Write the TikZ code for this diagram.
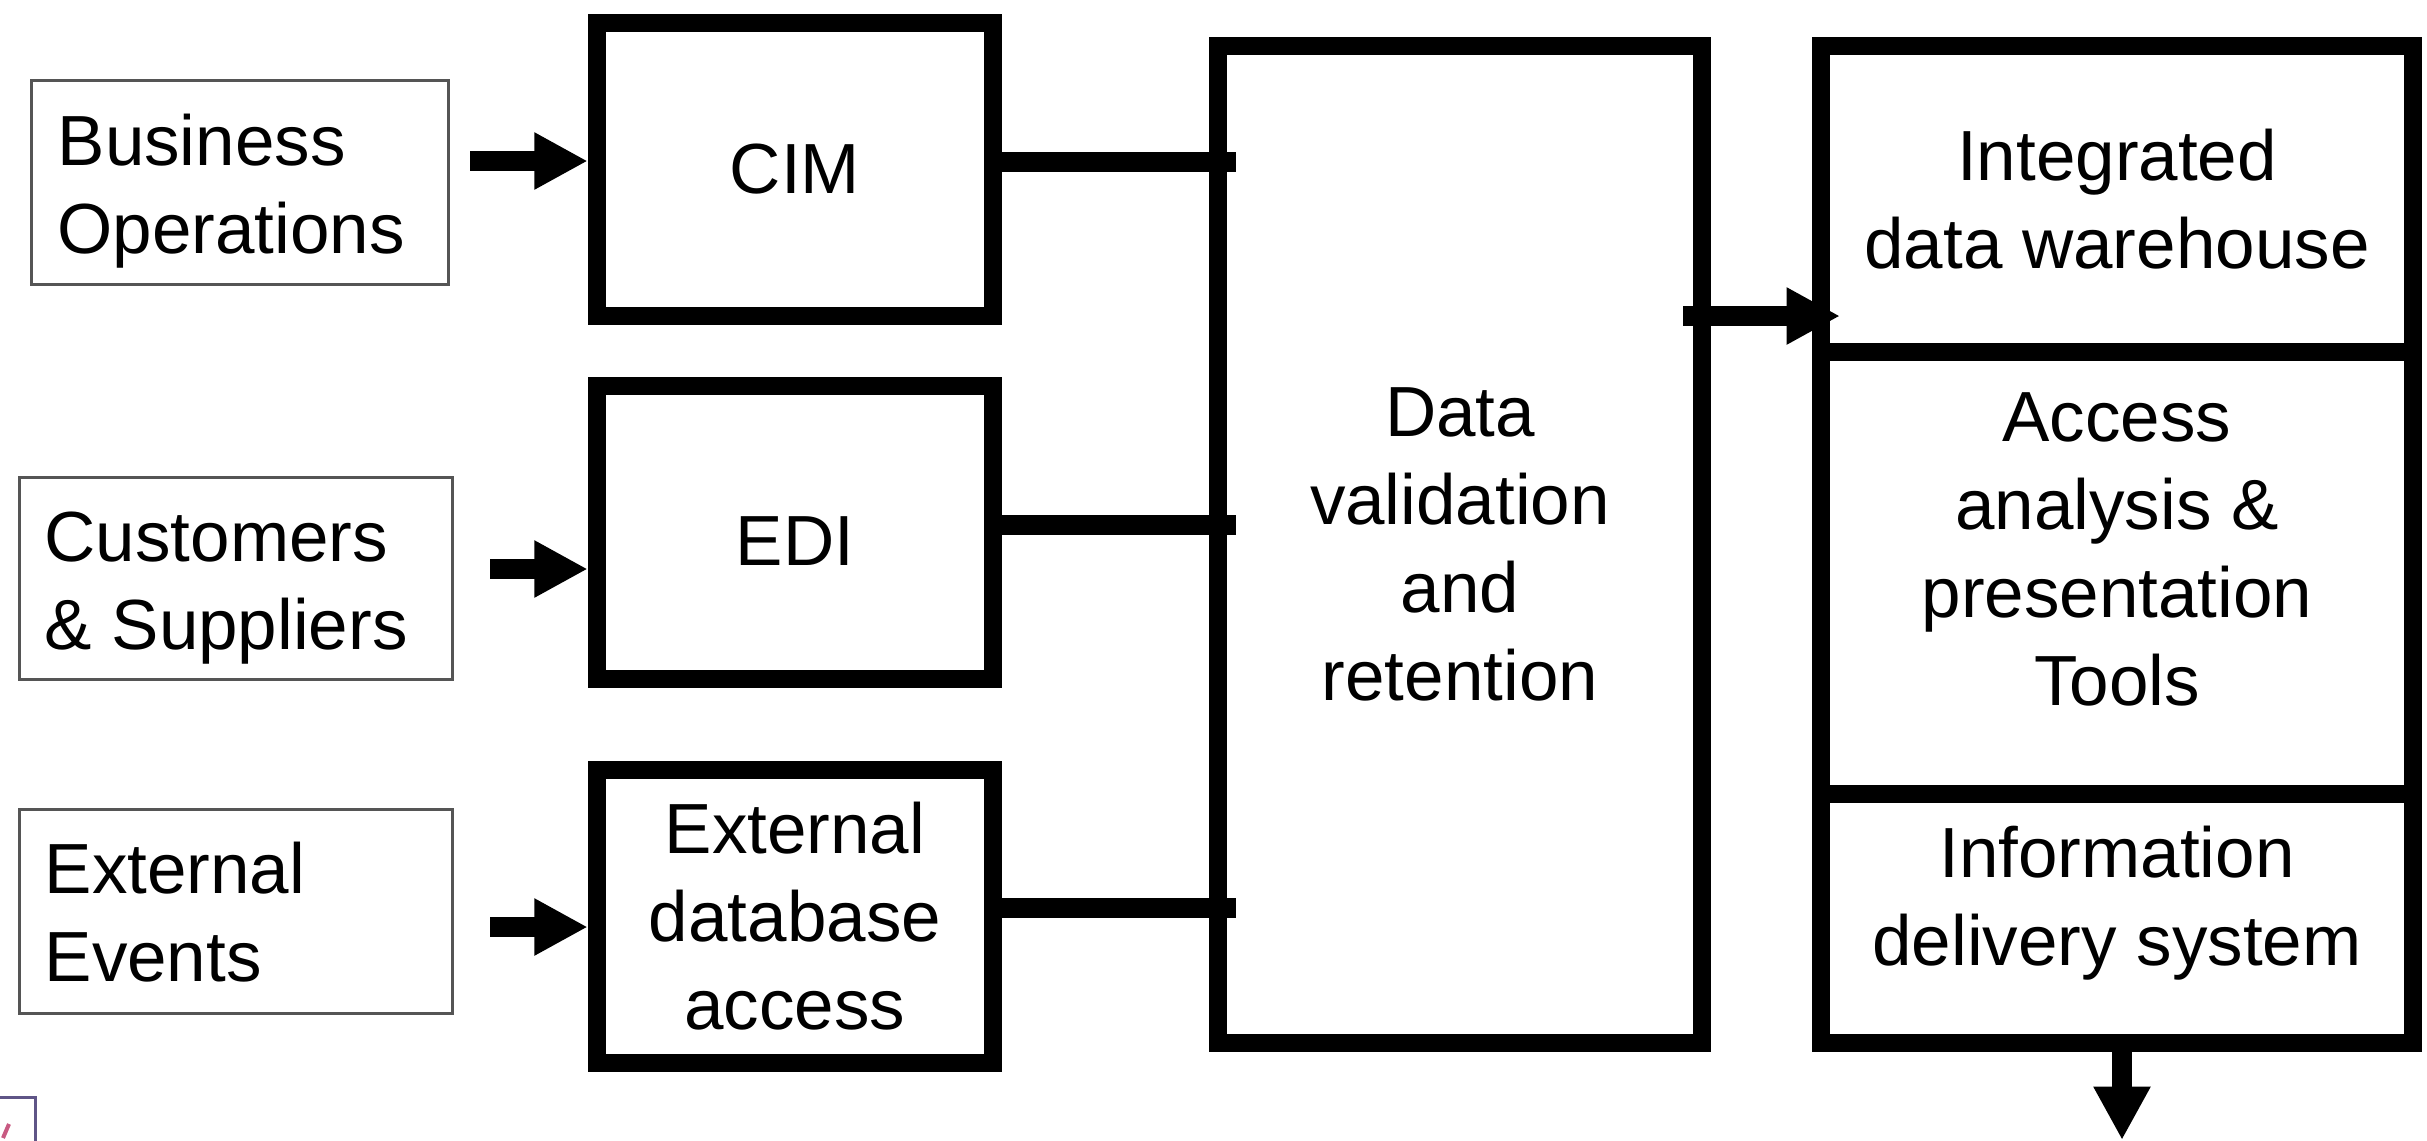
\documentclass[tikz,border=0pt]{standalone}
\usepackage{fontspec}
\setmainfont{Liberation Sans}
\usetikzlibrary{arrows.meta}
\tikzset{
  lbl/.style={font=\fontsize{21.3pt}{26.4pt}\selectfont, align=center, inner sep=0pt},
  lbll/.style={font=\fontsize{21.3pt}{26.4pt}\selectfont, align=left, inner sep=0pt, anchor=west},
  srcbox/.style={draw={rgb,255:red,85;green,85;blue,85}, line width=0.9pt, rectangle, inner sep=0pt},
  thickbox/.style={draw=black, line width=5.4pt, rectangle, inner sep=0pt,
    font=\fontsize{21.3pt}{26.4pt}\selectfont, align=center},
  conn/.style={draw=black, line width=6pt},
  arr/.style={draw=black, line width=6pt, -{Triangle[length=16pt,width=16pt]}},
}
\begin{document}
\begin{tikzpicture}[x=0.3pt, y=-0.3pt]
\useasboundingbox (0,0) rectangle (2427,1140);
% source boxes
\node[srcbox, minimum width=125.25pt, minimum height=61.2pt] (bo) at (239.75,182.5) {};
\node[srcbox, minimum width=130.05pt, minimum height=60.6pt] (cs) at (235.75,578.5) {};
\node[srcbox, minimum width=130.05pt, minimum height=61.2pt] (ee) at (235.75,911.5) {};
\node[lbll] (botext) at (57,191) {Business\\Operations};
\node[lbll] (cstext) at (44,588) {Customers\\\& Suppliers};
\node[lbll] (eetext) at (44,912) {External\\Events};
% middle boxes
\node[thickbox, minimum width=118.95pt, minimum height=87.9pt] (cim) at (795,169.5) {CIM};
\node[thickbox, minimum width=118.95pt, minimum height=87.9pt] (edi) at (795,532.5) {};
\node[lbl] (editext) at (795,541) {EDI};
\node[thickbox, minimum width=118.95pt, minimum height=87.9pt] (edb) at (795,916.5) {External\\database\\access};
% data validation
\node[thickbox, minimum width=145.2pt, minimum height=299.1pt] (dv) at (1460,544.5) {Data\\validation\\and\\retention};
% right stack
\node[thickbox, minimum width=177.6pt, minimum height=91.8pt] (dw) at (2117,199) {Integrated\\data warehouse};
\node[thickbox, minimum width=177.6pt, minimum height=132.6pt] (aa) at (2117,573) {};
\node[thickbox, minimum width=177.6pt, minimum height=74.7pt] (ids) at (2117,918.5) {};
\node[lbl] (aatext) at (2117,549) {Access\\analysis \&\\presentation\\Tools};
\node[lbl] (idstext) at (2117,903) {Information\\delivery system};
% free ends
\coordinate (s1) at (470,161);
\coordinate (s2) at (490,569);
\coordinate (s3) at (490,927);
\coordinate (j1) at (1236,162);
\coordinate (j2) at (1236,525);
\coordinate (j3) at (1236,908);
\coordinate (d1) at (1683,316);
\coordinate (out) at (2122,1140);
% connectors
\draw[arr] (s1) -- (cim.west |- s1);
\draw[arr] (s2) -- (edi.west |- s2);
\draw[arr] (s3) -- (edb.west |- s3);
\draw[conn] (cim.east |- j1) -- (j1);
\draw[conn] (edi.east |- j2) -- (j2);
\draw[conn] (edb.east |- j3) -- (j3);
\draw[arr, shorten >=-8.4pt] (d1) -- (dw.west |- d1);
\draw[arr] (ids.south -| out) -- (out);
% small cropped icon at bottom left
\draw[draw={rgb,255:red,95;green,85;blue,135}, line width=0.9pt] (-20,1097) rectangle (35,1170);
\draw[draw={rgb,255:red,200;green,90;blue,130}, line width=1.2pt] (3,1138) -- (9,1124);
\end{tikzpicture}
\end{document}
